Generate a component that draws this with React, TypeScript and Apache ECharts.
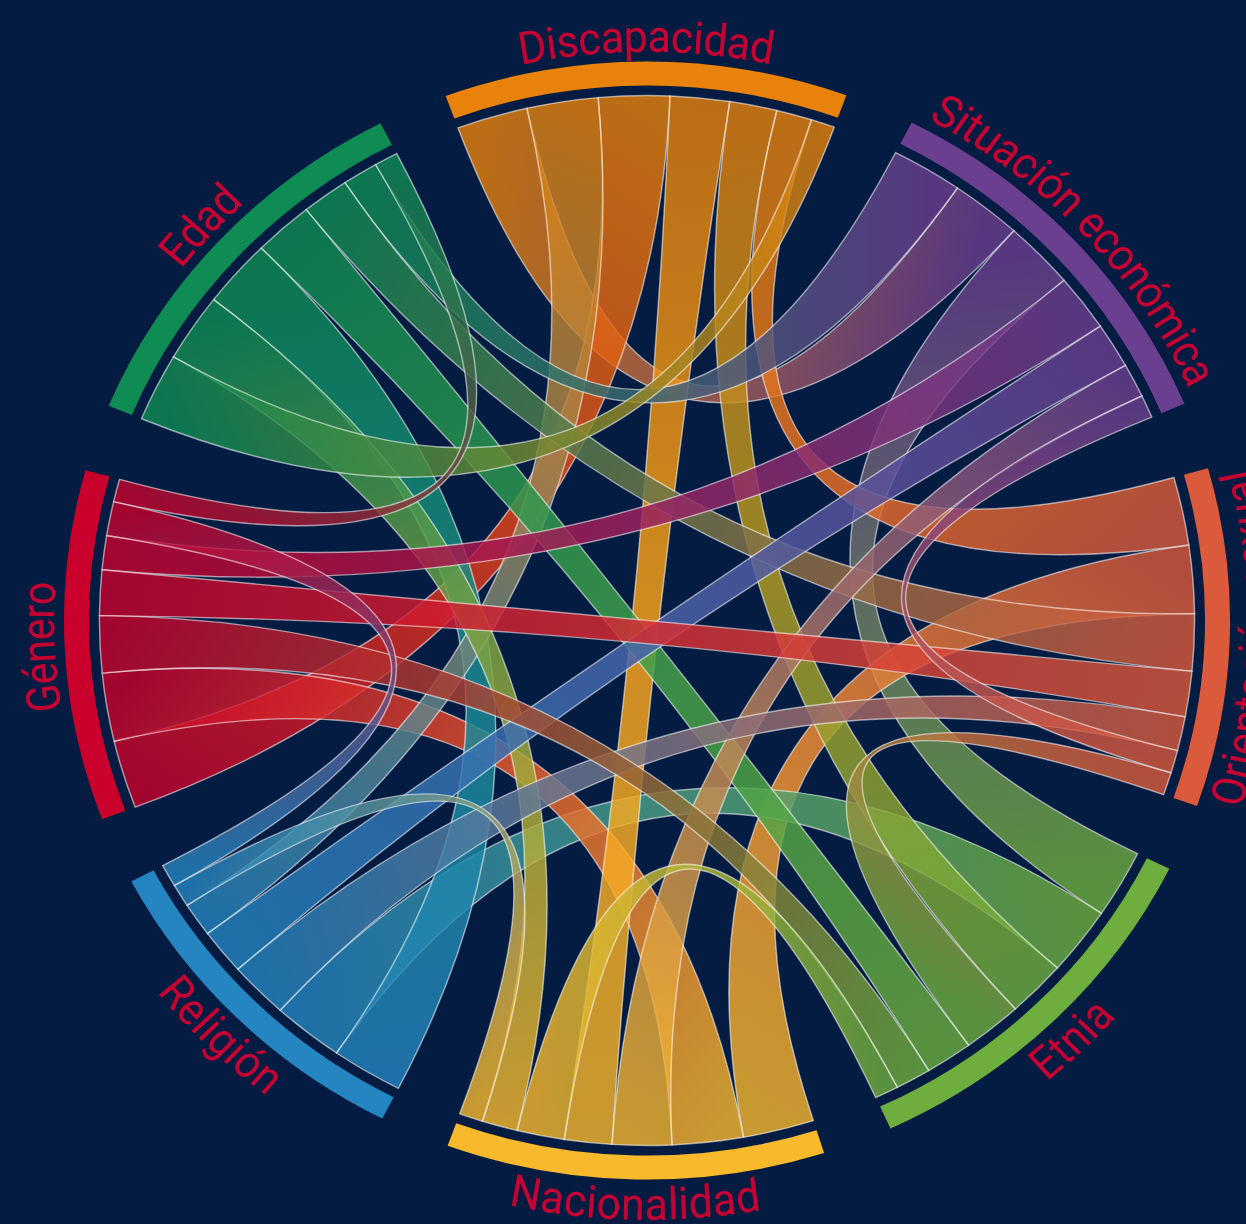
import React, { useEffect, useRef } from "react";
import * as echarts from "echarts";

const WIDTH = 1246;
const HEIGHT = 1224;
const BACKGROUND = "#051C42";
const LABEL_COLOR = "#C40032";

const GROUPS = ["Discapacidad", "Situación económica", "Orientación sexual", "Etnia", "Nacionalidad", "Religión", "Género", "Edad"];
const GROUP_COLORS = ["#E8820A", "#6B3F8F", "#DB5A3C", "#6DAE3F", "#F9B92C", "#2485C1", "#C9002B", "#0E8C54"];

// Each group's ribbons, clockwise: partner group index and its width there.
const TARGETS_DISCAPACIDAD = [1, 5, 6, 4, 3, 2, 7];
const VALUES_DISCAPACIDAD = [6, 6, 6, 5, 4, 3, 2];
const TARGETS_SITUACION = [7, 0, 3, 6, 5, 4, 2];
const VALUES_SITUACION = [6, 6, 6, 5, 4, 3, 2];
const TARGETS_ORIENTACION = [0, 4, 7, 6, 5, 1, 3];
const VALUES_ORIENTACION = [6, 6, 5, 4, 3, 2, 2];
const TARGETS_ETNIA = [1, 5, 0, 2, 7, 6, 4];
const VALUES_ETNIA = [6, 6, 5, 5, 4, 3, 2];
const TARGETS_NACIONALIDAD = [2, 6, 1, 0, 3, 7, 5];
const VALUES_NACIONALIDAD = [6, 6, 5, 4, 4, 3, 2];
const TARGETS_RELIGION = [7, 3, 2, 1, 0, 4, 6];
const VALUES_RELIGION = [6, 6, 5, 4, 3, 2, 2];
const TARGETS_GENERO = [0, 4, 3, 2, 1, 5, 7];
const VALUES_GENERO = [6, 6, 5, 4, 3, 3, 2];
const TARGETS_EDAD = [0, 4, 5, 3, 2, 1, 6];
const VALUES_EDAD = [6, 6, 6, 5, 4, 3, 2];

const ALL_TARGETS = [TARGETS_DISCAPACIDAD, TARGETS_SITUACION, TARGETS_ORIENTACION, TARGETS_ETNIA, TARGETS_NACIONALIDAD, TARGETS_RELIGION, TARGETS_GENERO, TARGETS_EDAD];
const ALL_VALUES = [VALUES_DISCAPACIDAD, VALUES_SITUACION, VALUES_ORIENTACION, VALUES_ETNIA, VALUES_NACIONALIDAD, VALUES_RELIGION, VALUES_GENERO, VALUES_EDAD];

const GAP_DEG = 7;
const START_DEG = -20.2;
const CENTER_X = 647;
const CENTER_Y = 620.5;
const STRETCH_X = 1.043;
const R_RIBBON = 525;
const R_BAND_IN = 535;
const R_BAND_OUT = 559;
const R_LABEL = 584;
const LABEL_SIZE = 45;
const LABEL_SQUEEZE = 0.91;

const totalValue = ALL_VALUES.reduce((s, a) => s + a.reduce((x, y) => x + y, 0), 0);
const degPerUnit = (360 - GAP_DEG * GROUPS.length) / totalValue;

type Seg = { start: number; end: number; value: number };
const groupSpans: Seg[] = [];
const segs: Record<string, Seg> = {};
{
  let a = START_DEG;
  ALL_VALUES.forEach((vals, g) => {
    const s = a;
    vals.forEach((v, k) => {
      segs[`${g}-${ALL_TARGETS[g][k]}`] = { start: a, end: a + v * degPerUnit, value: v };
      a += v * degPerUnit;
    });
    groupSpans.push({ start: s, end: a, value: 0 });
    a += GAP_DEG;
  });
}

// The widest ribbons lie underneath, the thin ones on top.
const links: { s: number; t: number }[] = [];
ALL_TARGETS.forEach((tg, s) => tg.forEach((t) => { if (s < t) links.push({ s, t }); }));
const linkWeight = (l: { s: number; t: number }) => segs[`${l.s}-${l.t}`].value + segs[`${l.t}-${l.s}`].value;
links.sort((x, y) => linkWeight(y) - linkWeight(x));

const norm = (a: number) => ((a % 360) + 360) % 360;
const inwardTops = new Set(["Orientación sexual", "Etnia", "Nacionalidad", "Religión"]);
const stretch = { originX: CENTER_X, originY: CENTER_Y, scaleX: STRETCH_X };

function rgbOf(hex: string) {
  const n = parseInt(hex.slice(1), 16);
  return [(n >> 16) & 255, (n >> 8) & 255, n & 255];
}
function mixAlpha(h1: string, h2: string, t: number, a: number) {
  const p = rgbOf(h1), q = rgbOf(h2);
  const c = p.map((v, i) => Math.round(v + (q[i] - v) * t));
  return `rgba(${c[0]},${c[1]},${c[2]},${a})`;
}

function ribbonItem(params: any, api: any) {
  const link = links[params.dataIndex];
  const a = segs[`${link.s}-${link.t}`];
  const b = segs[`${link.t}-${link.s}`];
  const pt = (ang: number) => api.coord([R_RIBBON, norm(ang)]);
  const c = api.coord([0, 0]);
  const [a0, a1, b0, b1] = [pt(a.start), pt(a.end), pt(b.start), pt(b.end)];
  const d =
    `M${a0[0]} ${a0[1]} A${R_RIBBON} ${R_RIBBON} 0 0 1 ${a1[0]} ${a1[1]} ` +
    `Q${c[0]} ${c[1]} ${b0[0]} ${b0[1]} A${R_RIBBON} ${R_RIBBON} 0 0 1 ${b1[0]} ${b1[1]} ` +
    `Q${c[0]} ${c[1]} ${a0[0]} ${a0[1]} Z`;
  const ma = pt((a.start + a.end) / 2);
  const mb = pt((b.start + b.end) / 2);
  const cs = GROUP_COLORS[link.s], ct = GROUP_COLORS[link.t];
  return {
    type: "path",
    ...stretch,
    shape: { pathData: d },
    style: {
      fill: new echarts.graphic.LinearGradient(ma[0], ma[1], mb[0], mb[1], [
        { offset: 0, color: mixAlpha(cs, ct, 0, 0.8) },
        { offset: 0.5, color: mixAlpha(cs, ct, 0.5, 0.86) },
        { offset: 1, color: mixAlpha(cs, ct, 1, 0.8) },
      ], true),
      stroke: "rgba(255,255,255,0.55)",
      lineWidth: 1.4,
    },
  };
}

function bandItem(params: any, api: any) {
  const g = groupSpans[params.dataIndex];
  const p = (r: number, ang: number) => api.coord([r, norm(ang)]);
  const o0 = p(R_BAND_OUT, g.start), o1 = p(R_BAND_OUT, g.end);
  const i0 = p(R_BAND_IN, g.start), i1 = p(R_BAND_IN, g.end);
  return {
    type: "path",
    ...stretch,
    shape: {
      pathData:
        `M${o0[0]} ${o0[1]} A${R_BAND_OUT} ${R_BAND_OUT} 0 0 1 ${o1[0]} ${o1[1]} ` +
        `L${i1[0]} ${i1[1]} A${R_BAND_IN} ${R_BAND_IN} 0 0 0 ${i0[0]} ${i0[1]} Z`,
    },
    style: { fill: GROUP_COLORS[params.dataIndex] },
  };
}

function labelItem(params: any, api: any) {
  const name = GROUPS[params.dataIndex];
  const g = groupSpans[params.dataIndex];
  const at = api.coord([R_LABEL, norm((g.start + g.end) / 2)]);
  return {
    type: "text",
    x: at[0],
    y: at[1],
    style: {
      text: name,
      fill: LABEL_COLOR,
      font: `${LABEL_SIZE}px Roboto`,
      align: "center",
      verticalAlign: "middle",
    },
  };
}

// ECharts has no text on a path, so its own label texts are laid along their arcs.
// Local frame: the label's middle lies on the y axis; the arc is widened by 1/squeeze
// so that the squeezed glyphs come back onto the circle.
function bendLabels(host: HTMLElement) {
  const svg = host.querySelector("svg");
  if (!svg) return;
  const NS = "http://www.w3.org/2000/svg";
  svg.querySelectorAll("text").forEach((t) => {
    const name = t.textContent || "";
    const i = GROUPS.indexOf(name);
    if (i < 0 || t.querySelector("textPath")) return;
    const g = groupSpans[i];
    const mid = (g.start + g.end) / 2;
    const inward = inwardTops.has(name);
    const id = `label-arc-${i}`;
    const rx = R_LABEL / LABEL_SQUEEZE;
    const p = document.createElementNS(NS, "path");
    p.setAttribute("id", id);
    p.setAttribute("d", `M${-rx} 0 A${rx} ${R_LABEL} 0 0 ${inward ? 0 : 1} ${rx} 0`);
    p.setAttribute("fill", "none");
    let defs = svg.querySelector("defs");
    if (!defs) {
      defs = document.createElementNS(NS, "defs");
      svg.insertBefore(defs, svg.firstChild);
    }
    defs.appendChild(p);
    t.removeAttribute("x");
    t.removeAttribute("y");
    t.setAttribute("text-anchor", "middle");
    t.setAttribute("dominant-baseline", "central");
    t.setAttribute(
      "transform",
      `translate(${CENTER_X} ${CENTER_Y}) scale(${STRETCH_X} 1) rotate(${inward ? mid + 180 : mid}) scale(${LABEL_SQUEEZE} 1)`
    );
    const tp = document.createElementNS(NS, "textPath");
    tp.setAttribute("href", `#${id}`);
    tp.setAttribute("startOffset", "50%");
    tp.textContent = name;
    t.textContent = "";
    t.appendChild(tp);
  });
}

export default function App() {
  const ref = useRef<HTMLDivElement>(null);
  useEffect(() => {
    const host = ref.current!;
    const chart = echarts.init(host, undefined, { renderer: "svg" });
    chart.setOption({
      animation: false,
      backgroundColor: BACKGROUND,
      polar: { center: [CENTER_X, CENTER_Y], radius: 600 },
      angleAxis: { type: "value", min: 0, max: 360, startAngle: 90, clockwise: true, show: false },
      radiusAxis: { type: "value", min: 0, max: 600, show: false },
      series: [
        { type: "custom", coordinateSystem: "polar", silent: true, data: links.map((_, i) => [i, i]), renderItem: ribbonItem },
        { type: "custom", coordinateSystem: "polar", silent: true, data: GROUPS.map((_, i) => [i, i]), renderItem: bandItem },
        { type: "custom", coordinateSystem: "polar", silent: true, data: GROUPS.map((_, i) => [i, i]), renderItem: labelItem },
      ],
    });
    bendLabels(host);
    const raf = requestAnimationFrame(() => bendLabels(host));
    return () => {
      cancelAnimationFrame(raf);
      chart.dispose();
    };
  }, []);
  return <div ref={ref} style={{ position: "fixed", left: 0, top: 0, width: WIDTH, height: HEIGHT }} />;
}
